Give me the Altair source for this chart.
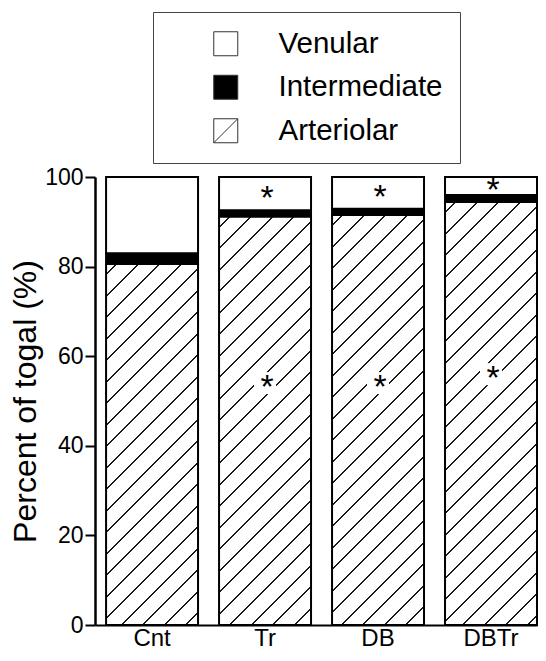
import altair as alt
import pandas as pd

# ---------------- data ----------------
categories = ["Cnt", "Tr", "DB", "DBTr"]
arteriolar = [80.6, 91.2, 91.5, 94.4]
intermediate = [2.4, 1.4, 1.4, 1.6]
venular = [round(100 - a - i, 2) for a, i in zip(arteriolar, intermediate)]
series_names = ["Venular", "Intermediate", "Arteriolar"]
series_order = {"Arteriolar": 0, "Intermediate": 1, "Venular": 2}
top_star_cats = ["Tr", "DB", "DBTr"]
mid_star_cats = ["Tr", "DB", "DBTr"]
mid_star_y = [54, 54, 56]
y_ticks = [0, 20, 40, 60, 80, 100]

# ---------------- layout / style ----------------
FONT = "Liberation Sans"
PLOT_W = 442
PLOT_H = 448
PAD = {"left": 87, "top": 169, "right": 1, "bottom": 26}
PAD_INNER = 0.186
PAD_OUTER = 0.049
STEP = PLOT_W / (len(categories) - PAD_INNER + 2 * PAD_OUTER)
BAND_W = STEP * (1 - PAD_INNER)
HATCH_SPACING = 21.5   # horizontal distance between hatch lines (px)
HATCH_THICK = 2.2      # thickness measured along x+y (px)
HATCH_COLOR = "#1a1a1a"
LEGEND_HATCH_PATH = "M-1,-1H1V1H-1Z M-1,1L1,-1"

rows = []
for c, a, i, v in zip(categories, arteriolar, intermediate, venular):
    for s, val in (("Arteriolar", a), ("Intermediate", i), ("Venular", v)):
        rows.append({"cat": c, "series": s, "value": val, "ord": series_order[s]})
df = pd.DataFrame(rows)

top_star_df = pd.DataFrame({
    "cat": top_star_cats,
    "value": [arteriolar[categories.index(c)] + intermediate[categories.index(c)]
              + venular[categories.index(c)] / 2 for c in top_star_cats],
})
mid_star_df = pd.DataFrame({"cat": mid_star_cats, "value": mid_star_y})


def hatch_gradient(w, h):
    """Diagonal hatch (bottom-left to top-right) as a hard-stop linear gradient
    in bounding-box units of a w x h rectangle."""
    total = w + h
    k = total / (w * w + h * h)
    stops = [{"offset": 0, "color": "white"}]
    s = HATCH_SPACING / 2
    while s < total:
        t0 = max(0.0, (s - HATCH_THICK / 2) / total)
        t1 = min(1.0, (s + HATCH_THICK / 2) / total)
        stops += [
            {"offset": round(t0, 5), "color": "white"},
            {"offset": round(t0, 5), "color": HATCH_COLOR},
            {"offset": round(t1, 5), "color": HATCH_COLOR},
            {"offset": round(t1, 5), "color": "white"},
        ]
        s += HATCH_SPACING
    stops.append({"offset": 1, "color": "white"})
    return {"gradient": "linear", "x1": 0, "y1": 0,
            "x2": round(k * w, 5), "y2": round(k * h, 5), "stops": stops}


fill_conditions = []
for c, a in zip(categories, arteriolar):
    fill_conditions.append({
        "test": f"datum.series === 'Arteriolar' && datum.cat === '{c}'",
        "value": hatch_gradient(BAND_W, a / 100 * PLOT_H),
    })
fill_conditions.append({"test": "datum.series === 'Intermediate'", "value": "black"})

x_scale = alt.Scale(domain=categories, paddingInner=PAD_INNER,
                    paddingOuter=PAD_OUTER, align=1)
y_scale = alt.Scale(domain=[0, 100], nice=False)


def x_enc():
    return alt.X("cat:N", sort=categories, scale=x_scale,
                 axis=alt.Axis(title=None, ticks=False, labelAngle=0,
                               labelFontSize=24, labelPadding=1,
                               domainWidth=2, domainColor="black"))


def y_enc(stack=None):
    kw = {}
    if stack is not None:
        kw["stack"] = stack
    return alt.Y("value:Q", scale=y_scale,
                 axis=alt.Axis(title="Percent of togal (%)", values=y_ticks,
                               grid=False, tickSize=10, tickWidth=2,
                               tickColor="black", domainWidth=2.5,
                               domainColor="black", labelFontSize=23,
                               labelPadding=2, titleFontSize=32,
                               titlePadding=2, titleFontWeight="normal"),
                 **kw)


legend_points = alt.Chart(df).mark_point(
    filled=True, size=4, strokeWidth=1, opacity=1
).encode(
    x=x_enc(),
    y=y_enc(),
    fill=alt.Fill("series:N",
                  scale=alt.Scale(domain=series_names,
                                  range=["white", "black", "white"]),
                  legend=alt.Legend(title=None)),
    shape=alt.Shape("series:N",
                    scale=alt.Scale(domain=series_names,
                                    range=["square", "square", LEGEND_HATCH_PATH]),
                    legend=alt.Legend(title=None)),
    stroke=alt.Stroke("series:N",
                      scale=alt.Scale(domain=series_names,
                                      range=["#333", "#333", "#333"]),
                      legend=alt.Legend(title=None)),
)

bars = alt.Chart(df).mark_bar(stroke="black", strokeWidth=2).encode(
    x=x_enc(),
    y=y_enc(stack="zero"),
    order=alt.Order("ord:Q"),
    fill=alt.FillValue(value="white", condition=fill_conditions),
)

star_bg = alt.Chart(mid_star_df).mark_square(
    size=22 * 22, color="white", opacity=1, filled=True
).encode(x=x_enc(), y=y_enc())

star_text_top = alt.Chart(top_star_df).mark_text(
    text="*", font=FONT, fontSize=34, color="black", baseline="alphabetic",
    dy=15, dx=2
).encode(x=x_enc(), y=y_enc())

star_text_mid = alt.Chart(mid_star_df).mark_text(
    text="*", font=FONT, fontSize=34, color="black", baseline="alphabetic",
    dy=15, dx=2
).encode(x=x_enc(), y=y_enc())

chart = alt.layer(
    legend_points, bars, star_bg, star_text_top, star_text_mid
).properties(
    width=PLOT_W, height=PLOT_H,
    padding=PAD,
    autosize=alt.AutoSizeParams(type="none"),
).configure_view(
    stroke=None
).configure_axis(
    labelFont=FONT, titleFont=FONT, labelColor="black", titleColor="black"
).configure_legend(
    orient="none", legendX=58, legendY=-165,
    strokeColor="#444", padding=17,
    symbolOffset=41, labelOffset=38,
    labelFont=FONT, labelFontSize=29.5, labelColor="black", labelLimit=400,
    rowPadding=12.5, symbolSize=576, symbolStrokeWidth=1,
)

chart.save("out.html", embed_options={"renderer": "svg", "actions": False})
